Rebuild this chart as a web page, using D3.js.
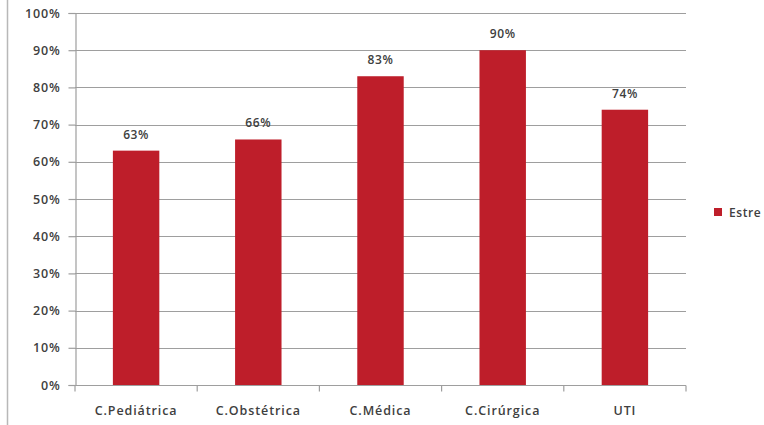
<!DOCTYPE html>
<html>
<head>
<meta charset="utf-8">
<script src="https://cdn.jsdelivr.net/npm/d3@7"></script>
<style>
  html, body { margin: 0; padding: 0; background: #fff; }
  svg { display: block; }
  text { font-family: "Open Sans", Lato, sans-serif; font-weight: 600; fill: #404040; }
</style>
</head>
<body>
<svg id="chart" width="764" height="425"></svg>
<script>
// Share of staff reporting stress, by hospital unit
const categories = ["C.Pediátrica", "C.Obstétrica", "C.Médica", "C.Cirúrgica", "UTI"];
const values = [63, 66, 83, 90, 74];
const yTicks = [0, 10, 20, 30, 40, 50, 60, 70, 80, 90, 100];
const legendLabel = "Estre";

const W = 764, H = 425;
const plot = { left: 75, right: 686, top: 13, bottom: 385 };
const barColor = "#be1e2a";
const gridColor = "#9e9e9e";

const svg = d3.select("#chart");

// outer frame line on the left edge
svg.append("line")
  .attr("x1", 7.5).attr("x2", 7.5).attr("y1", 0).attr("y2", H)
  .attr("stroke", "#b8b8b8").attr("stroke-width", 1.5);

const x = d3.scaleBand().domain(categories).range([plot.left, plot.right]).paddingInner(0.62).paddingOuter(0.31);
const y = d3.scaleLinear().domain([0, 100]).range([plot.bottom, plot.top]);

// horizontal gridlines
svg.append("g").selectAll("line").data(yTicks.filter(t => t > 0)).join("line")
  .attr("x1", plot.left).attr("x2", plot.right)
  .attr("y1", d => Math.round(y(d)) + 0.5).attr("y2", d => Math.round(y(d)) + 0.5)
  .attr("stroke", gridColor).attr("stroke-width", 1.2);

// bars
svg.append("g").selectAll("rect").data(values).join("rect")
  .attr("x", (d, i) => x(categories[i]))
  .attr("width", x.bandwidth())
  .attr("y", d => y(d))
  .attr("height", d => y(0) - y(d))
  .attr("fill", barColor);

// value labels
svg.append("g").selectAll("text").data(values).join("text")
  .attr("x", (d, i) => x(categories[i]) + x.bandwidth() / 2)
  .attr("y", d => y(d) - 12)
  .attr("text-anchor", "middle")
  .attr("font-size", 12)
  .attr("letter-spacing", 0.6)
  .text(d => d + "%");

// y axis
const yAxis = svg.append("g")
  .attr("transform", `translate(${plot.left + 0.5},0)`)
  .call(d3.axisLeft(y).tickValues(yTicks).tickSize(7).tickPadding(8).tickFormat(d => d + "%"));
yAxis.select(".domain").attr("stroke", gridColor).attr("stroke-width", 1.2);
yAxis.selectAll(".tick line").attr("stroke", gridColor).attr("stroke-width", 1.2);
yAxis.selectAll(".tick text").attr("font-size", 12.5).attr("letter-spacing", 0.8)
  .attr("font-family", null).attr("fill", null);

// x axis with ticks at category boundaries
const xAxisG = svg.append("g").attr("transform", `translate(0,${Math.round(plot.bottom) + 0.5})`);
xAxisG.append("line")
  .attr("x1", plot.left).attr("x2", plot.right)
  .attr("stroke", gridColor).attr("stroke-width", 1.2);
const bounds = d3.range(categories.length + 1).map(i => plot.left + i * (plot.right - plot.left) / categories.length);
xAxisG.selectAll("line.tk").data(bounds).join("line").attr("class", "tk")
  .attr("x1", d => d).attr("x2", d => d).attr("y1", 0).attr("y2", 6)
  .attr("stroke", gridColor).attr("stroke-width", 1.2);
xAxisG.selectAll("text").data(categories).join("text")
  .attr("x", d => x(d) + x.bandwidth() / 2)
  .attr("y", 29)
  .attr("text-anchor", "middle")
  .attr("font-size", 12.5)
  .attr("letter-spacing", 0.9)
  .text(d => d);

// legend
const legend = svg.append("g").attr("transform", "translate(714,208)");
legend.append("rect").attr("width", 8).attr("height", 8).attr("fill", barColor);
legend.append("text").attr("x", 15).attr("y", 8.5).attr("font-size", 12).attr("letter-spacing", 0.6).text(legendLabel);
</script>
</body>
</html>
